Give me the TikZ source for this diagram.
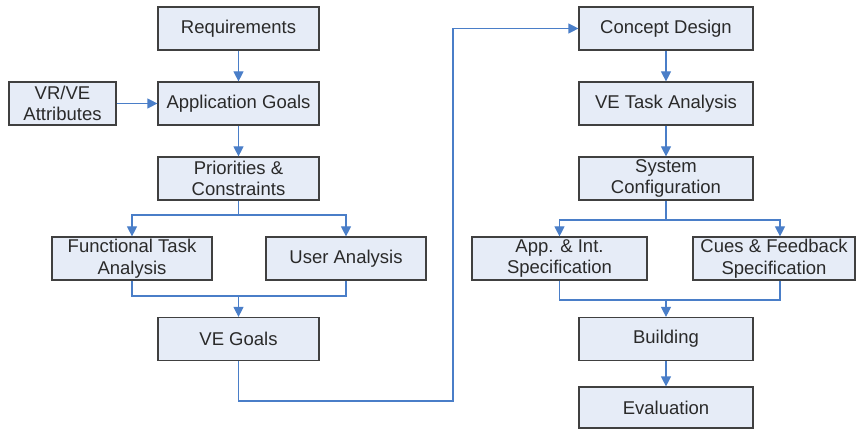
\documentclass[tikz,border=0pt]{standalone}
\usepackage{fontspec}
\setmainfont{Liberation Sans}
\usetikzlibrary{arrows.meta,calc}
\definecolor{boxfill}{HTML}{E6ECF7}
\definecolor{boxline}{HTML}{404040}
\definecolor{arrblue}{HTML}{4A7EC8}
\definecolor{txt}{HTML}{2A2A2A}
\tikzset{
  stepbox/.style={draw=boxline, fill=boxfill, line width=1.2pt, minimum height=43pt,
    inner sep=0pt, align=center, text=txt, font=\fontsize{18.5}{21.5}\selectfont},
  conn/.style={draw=arrblue, line width=1.2pt},
  arr/.style={conn, -{Triangle[length=10pt,width=10pt]}}
}
\begin{document}
\begin{tikzpicture}[x=1pt,y=-1pt]
\useasboundingbox (0,0) rectangle (856,430);
% left column
\node[stepbox, minimum width=161pt] (req) at (238.5,28.5) {Requirements};
\node[stepbox, minimum width=161pt] (app) at (238.5,103.5) {Application Goals};
\node[stepbox, minimum width=107pt] (vr) at (62.5,103.5) {VR/VE\\Attributes};
\node[stepbox, minimum width=161pt] (pri) at (238.5,178.5) {Priorities \&\\Constraints};
\node[stepbox, minimum width=160pt] (fta) at (132,258.5) {Functional Task\\Analysis};
\node[stepbox, minimum width=160pt] (ua) at (346,258.5) {User Analysis};
\node[stepbox, minimum width=161pt] (veg) at (238.5,339) {VE Goals};
% right column
\node[stepbox, minimum width=174pt] (cd) at (666,28.5) {Concept Design};
\node[stepbox, minimum width=174pt] (vta) at (666,103.5) {VE Task Analysis};
\node[stepbox, minimum width=174pt] (sc) at (666,178.5) {System\\Configuration};
\node[stepbox, minimum width=175pt] (ais) at (559.5,258.5) {App. \& Int.\\Specification};
\node[stepbox, minimum width=162pt] (cfs) at (774,258.5) {Cues \& Feedback\\Specification};
\node[stepbox, minimum width=174pt] (bld) at (666,339) {Building};
\node[stepbox, minimum width=174pt, minimum height=41pt] (evl) at (666,407.5) {Evaluation};
% connectors left
\draw[arr] (req) -- (app);
\draw[arr] (vr) -- (app);
\draw[arr] (app) -- (pri);
\draw[arr] (pri.south) -- (pri.south |- 0,215) -| (fta.north);
\draw[arr] (pri.south |- 0,215) -| (ua.north);
\draw[conn] (fta.south) |- (veg.north |- 0,296);
\draw[conn] (ua.south) |- (veg.north |- 0,296);
\draw[arr] (veg.north |- 0,296) -- (veg.north);
\draw[arr] (veg.south) -- (veg.south |- 0,401) -- (453,401) -- (453,28.5) -- (cd.west);
% connectors right
\draw[arr] (cd) -- (vta);
\draw[arr] (vta) -- (sc);
\draw[arr] (sc.south) -- (sc.south |- 0,220) -| (ais.north);
\draw[arr] (sc.south |- 0,220) -| ([xshift=6pt]cfs.north);
\draw[conn] (ais.south) |- (bld.north |- 0,300);
\draw[conn] ([xshift=6pt]cfs.south) |- (bld.north |- 0,300);
\draw[arr] (bld.north |- 0,300) -- (bld.north);
\draw[arr] (bld) -- (evl);
\end{tikzpicture}
\end{document}
